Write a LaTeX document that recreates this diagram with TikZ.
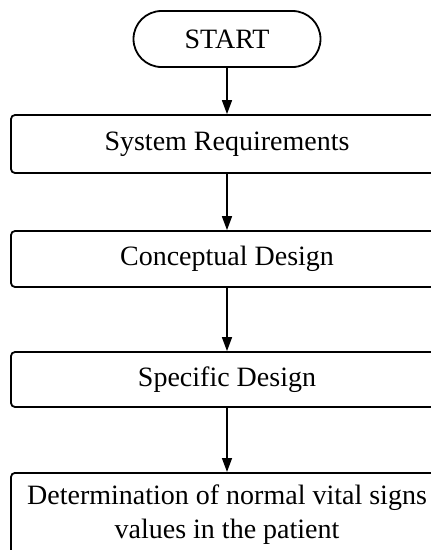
\documentclass[tikz,border=0pt]{standalone}
\usepackage{fontspec}
\setmainfont{Liberation Serif}
\usetikzlibrary{arrows.meta}
\begin{document}
\begin{tikzpicture}[x=1pt,y=1pt,
  every node/.style={font=\fontsize{28}{34}\selectfont},
  stepbox/.style={draw, line width=1.8pt, rounded corners=4pt, minimum width=432pt,
     text height=19pt, text depth=6pt, inner sep=0pt},
  startbox/.style={draw, line width=1.8pt, rounded corners=28pt, minimum width=187pt,
     minimum height=56pt, text height=19pt, text depth=0pt, inner sep=0pt},
  arr/.style={line width=1.5pt, -{Triangle[length=14pt,width=10pt]}}]
\useasboundingbox (0,0) rectangle (431,-550);
\clip (0,0) rectangle (431,-550);
\node[startbox] (start) at (227,-39) {START};
\node[stepbox, minimum height=58pt] (req) at (227,-144) {System Requirements};
\node[stepbox, minimum height=56pt] (con) at (227,-259) {Conceptual Design};
\node[stepbox, minimum height=55pt] (spe) at (227,-379.5) {Specific Design};
\node[draw, line width=1.8pt, rounded corners=4pt, minimum width=432pt,
      inner xsep=0pt, inner ysep=12pt, align=center, anchor=north] (det) at (227,-472)
      {Determination of normal vital signs\\values in the patient};
\draw[arr] (start.south) -- (req.north);
\draw[arr] (req.south) -- (con.north);
\draw[arr] (con.south) -- (spe.north);
\draw[arr] (spe.south) -- (det.north);
\end{tikzpicture}
\end{document}
